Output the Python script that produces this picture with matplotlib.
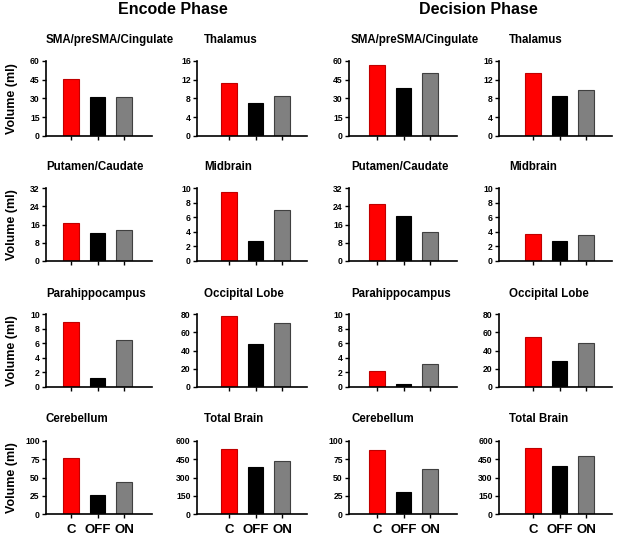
import matplotlib
matplotlib.use("Agg")
import matplotlib.pyplot as plt

plt.rcParams['font.family'] = ['Liberation Sans', 'DejaVu Sans']
plt.rcParams['font.weight'] = 'bold'

groups = ["C", "OFF", "ON"]
colors = ["#FF0000", "#000000", "#808080"]
edgecolors = ["#C00000", "#000000", "#404040"]

regions = ["SMA/preSMA/Cingulate", "Thalamus", "Putamen/Caudate", "Midbrain",
           "Parahippocampus", "Occipital Lobe", "Cerebellum", "Total Brain"]
ymax = [60, 16, 32, 10, 10, 80, 100, 600]
ystep = [15, 4, 8, 2, 2, 20, 25, 150]

encode = [
    [45.3, 30.8, 31.2],
    [11.3, 7.0, 8.6],
    [16.8, 12.4, 13.8],
    [9.4, 2.8, 7.05],
    [8.9, 1.3, 6.4],
    [78.0, 47.5, 70.0],
    [76.4, 26.3, 44.0],
    [537, 385, 436],
]
decision = [
    [56.7, 38.0, 50.5],
    [13.5, 8.6, 9.9],
    [25.1, 19.8, 12.7],
    [3.75, 2.8, 3.5],
    [2.25, 0.4, 3.15],
    [55.0, 28.3, 48.2],
    [87.0, 29.5, 61.0],
    [545, 397, 478],
]

W, H = 617, 538
fig = plt.figure(figsize=(W / 100, H / 100), dpi=100)

# layout in pixels
col_lr = [(46, 152), (197, 307), (349, 457), (499, 612)]
col_tick0 = [71, 229, 377, 533]
spacing = 26.5
row_tb = [(61, 136), (188, 261), (314, 387), (441, 514)]
title_x = [46, 204, 351, 509]
title_y = [40, 167, 294, 419]

for phase_idx, data in enumerate([encode, decision]):
    for k in range(8):
        r = k // 2
        c = phase_idx * 2 + (k % 2)
        l, rr = col_lr[c]
        t, b = row_tb[r]
        ax = fig.add_axes([l / W, 1 - b / H, (rr - l) / W, (b - t) / H])
        x = list(range(3))
        ax.bar(x, data[k], width=0.6, color=colors, edgecolor=edgecolors,
               linewidth=0.8, zorder=2)
        ax.set_xlim((l - col_tick0[c]) / spacing, (rr - col_tick0[c]) / spacing)
        ax.set_ylim(0, ymax[k])
        ticks = [i * ystep[k] for i in range(int(round(ymax[k] / ystep[k])) + 1)]
        ax.set_yticks(ticks)
        ax.set_yticklabels([str(v) for v in ticks], fontsize=6.2, fontweight='bold')
        ax.set_xticks(x)
        if r == 3:
            ax.set_xticklabels(groups, fontsize=9.5, fontweight='bold')
        else:
            ax.set_xticklabels([])
        for s in ['top', 'right']:
            ax.spines[s].set_visible(False)
        for s in ['left', 'bottom']:
            ax.spines[s].set_linewidth(1.2)
        ax.tick_params(axis='y', direction='out', length=3, width=1.0, pad=1.5)
        ax.tick_params(axis='x', direction='out', length=3, width=1.0, pad=4)
        ax.patch.set_visible(False)
        if c == 0:
            fig.text(12 / W, 1 - (t + b) / 2 / H, "Volume (ml)", fontsize=9.0,
                     fontweight='bold', rotation=90, ha='center', va='center')
        fig.text(title_x[c] / W, 1 - title_y[r] / H, regions[k], fontsize=8.3,
                 fontweight='bold', ha='left', va='center')

fig.text(173 / W, 1 - 10 / H, "Encode Phase", fontsize=11.5, fontweight='bold',
         ha='center', va='center')
fig.text(478 / W, 1 - 10 / H, "Decision Phase", fontsize=11.5, fontweight='bold',
         ha='center', va='center')

fig.savefig("out.png", dpi=100)
